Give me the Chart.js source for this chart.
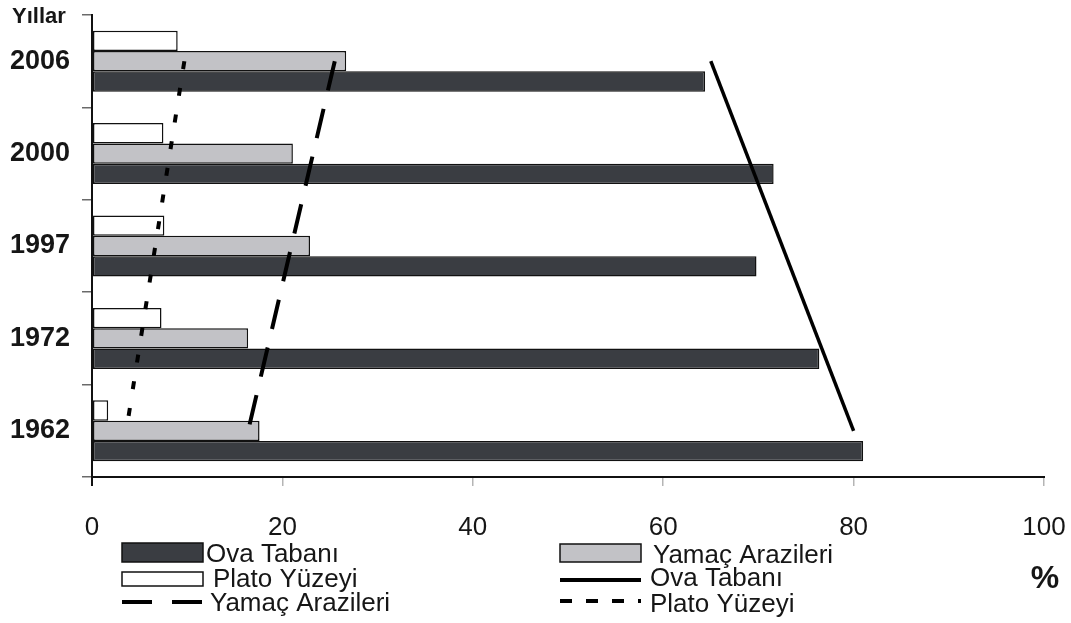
<!DOCTYPE html>
<html>
<head>
<meta charset="utf-8">
<script src="https://cdn.jsdelivr.net/npm/chart.js@4"></script>
<style>
html,body{margin:0;padding:0;background:#fff;}
#wrap{width:1071px;height:623px;position:relative;}
</style>
</head>
<body>
<div id="wrap"><canvas id="c" width="1071" height="623"></canvas></div>
<script>
// ---- data ----
const years = ['2006', '2000', '1997', '1972', '1962'];
const platoValues = [9.0, 7.5, 7.6, 7.3, 1.7];
const yamacValues = [26.7, 21.1, 22.9, 16.4, 17.6];
const ovaValues = [64.4, 71.6, 69.8, 76.4, 81.0];
// trend lines: values at first year (2006) and last year (1962)
const ovaTrend = [65.0, 80.0];
const yamacTrend = [25.5, 16.4];
const platoTrend = [9.7, 3.6];
const xTickValues = [0, 20, 40, 60, 80, 100];
const nameOva = 'Ova Tabanı';
const nameYamac = 'Yamaç Arazileri';
const namePlato = 'Plato Yüzeyi';

// ---- styles ----
const FONT = '"Liberation Sans", Arial, sans-serif';
const C_OVA = '#3a3d42';
const C_YAMAC = '#c2c2c6';
const C_PLATO = '#ffffff';
const C_TEXT = '#161616';

function trendPoints(vals) {
  return [{x: vals[0], y: years[0]}, {x: vals[1], y: years[years.length - 1]}];
}

const barCommon = {
  type: 'bar', borderColor: '#111', borderWidth: 1.5, borderSkipped: false,
  categoryPercentage: 0.66, barPercentage: 1.0, order: 2
};
const lineCommon = {
  type: 'line', borderColor: '#000', pointRadius: 0, tension: 0, fill: false,
  borderCapStyle: 'butt', order: 1
};

const datasets = [
  Object.assign({label: namePlato, data: platoValues, backgroundColor: C_PLATO}, barCommon),
  Object.assign({label: nameYamac, data: yamacValues, backgroundColor: C_YAMAC}, barCommon),
  Object.assign({label: nameOva, data: ovaValues, backgroundColor: C_OVA}, barCommon),
  Object.assign({label: nameOva, data: trendPoints(ovaTrend), borderWidth: 3.5}, lineCommon),
  Object.assign({label: nameYamac, data: trendPoints(yamacTrend), borderWidth: 4, borderDash: [30, 19]}, lineCommon),
  Object.assign({label: namePlato, data: trendPoints(platoTrend), borderWidth: 4, borderDash: [8, 19]}, lineCommon)
];

// legend drawn as 2 columns x 3 rows
const legendLayout = [
  {ds: 2, x: 122, y: 543, h: 19, tx: 206, tb: 562},
  {ds: 0, x: 122, y: 572, h: 14, tx: 213, tb: 587},
  {ds: 4, x: 122, y: 602, dash: [30, 20], tx: 210, tb: 611},
  {ds: 1, x: 560, y: 544, h: 18, tx: 653, tb: 563},
  {ds: 3, x: 560, y: 580, dash: [], tx: 650, tb: 586},
  {ds: 5, x: 560, y: 601, dash: [12, 14], tx: 650, tb: 612}
];

const extras = {
  id: 'extras',
  afterDraw(chart) {
    const ctx = chart.ctx;
    ctx.save();
    ctx.fillStyle = C_TEXT;
    ctx.textBaseline = 'alphabetic';
    ctx.textAlign = 'left';
    ctx.font = 'bold 22px ' + FONT;
    ctx.fillText('Yıllar', 12, 23);
    ctx.font = 'bold 32px ' + FONT;
    ctx.textAlign = 'center';
    ctx.fillText('%', 1045, 588);

    const W = 81;
    legendLayout.forEach(it => {
      const d = chart.data.datasets[it.ds];
      ctx.save();
      if (d.type === 'bar') {
        ctx.fillStyle = d.backgroundColor;
        ctx.strokeStyle = d.borderColor;
        ctx.lineWidth = 1.5;
        ctx.fillRect(it.x, it.y, W, it.h);
        ctx.strokeRect(it.x, it.y, W, it.h);
      } else {
        ctx.strokeStyle = d.borderColor;
        ctx.lineWidth = 4;
        ctx.lineCap = 'butt';
        ctx.setLineDash(it.dash);
        ctx.beginPath();
        ctx.moveTo(it.x, it.y);
        ctx.lineTo(it.x + W, it.y);
        ctx.stroke();
      }
      ctx.restore();
      ctx.fillStyle = C_TEXT;
      ctx.textAlign = 'left';
      ctx.font = '26px ' + FONT;
      ctx.fillText(d.label, it.tx, it.tb);
    });
    ctx.restore();
  }
};

new Chart(document.getElementById('c'), {
  type: 'bar',
  data: {labels: years, datasets: datasets},
  options: {
    indexAxis: 'y',
    responsive: false,
    animation: false,
    devicePixelRatio: 1,
    layout: {padding: {left: 0, top: 15, right: 27, bottom: 86}},
    plugins: {legend: {display: false}, tooltip: {enabled: false}},
    scales: {
      x: {
        type: 'linear', position: 'bottom', min: 0, max: 100,
        afterBuildTicks(s) { s.ticks = xTickValues.map(v => ({value: v})); },
        afterFit(s) { s.height = 60; s.paddingLeft = 0; s.paddingRight = 0; },
        border: {color: '#111', width: 2},
        grid: {
          drawOnChartArea: false, tickLength: 9,
          color: c => (c.index === 0 ? '#111' : '#b5b5b5'),
          lineWidth: c => (c.index === 0 ? 2 : 1.5)
        },
        ticks: {color: C_TEXT, padding: 26, font: {family: FONT, size: 26}, maxRotation: 0}
      },
      y: {
        type: 'category', position: 'left', offset: true,
        afterFit(s) { s.width = 92; s.paddingTop = 0; s.paddingBottom = 0; },
        border: {color: '#111', width: 2},
        grid: {drawOnChartArea: false, offset: true, tickLength: 10, color: '#6a6a6a', lineWidth: 1.5},
        ticks: {color: C_TEXT, padding: 12, font: {family: FONT, size: 27, weight: 'bold'}}
      }
    }
  },
  plugins: [extras]
});
</script>
</body>
</html>
